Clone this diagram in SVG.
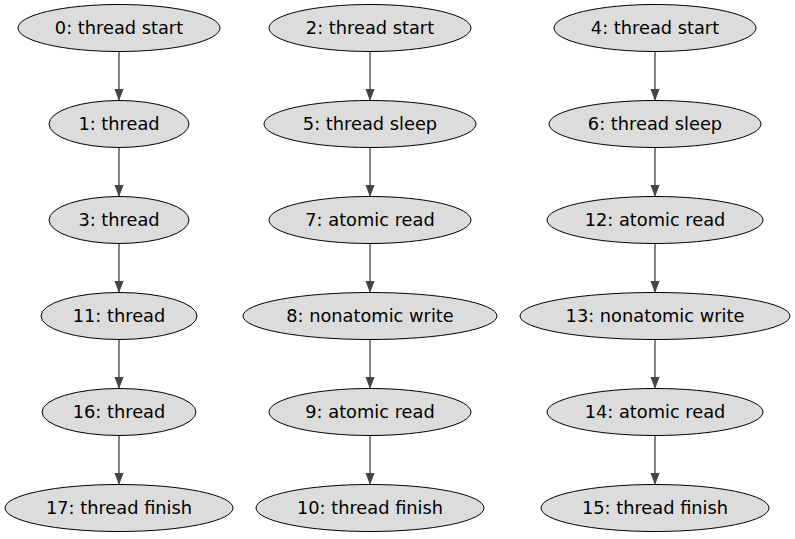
<svg xmlns="http://www.w3.org/2000/svg" width="795" height="539" viewBox="0 0 795 539">
<defs>
<style>
.n ellipse{fill:#dcdcdc;stroke:#000;stroke-width:1}
.n text{font-family:"DejaVu Sans",sans-serif;font-size:17.8px;text-anchor:middle;fill:#000}
.e line{stroke:#444;stroke-width:1.3}
</style>
<marker id="ah" markerWidth="12" markerHeight="10" refX="12" refY="5" orient="auto" markerUnits="userSpaceOnUse">
<path d="M0,0.5 L12,5 L0,9.5 Z" fill="#444"/>
</marker>
</defs>
<rect width="795" height="539" fill="#fff"/>
<g id="edges" class="e">
<line x1="119" y1="52" x2="119" y2="101" marker-end="url(#ah)"/>
<line x1="119" y1="148" x2="119" y2="197" marker-end="url(#ah)"/>
<line x1="119" y1="244" x2="119" y2="293" marker-end="url(#ah)"/>
<line x1="119" y1="340" x2="119" y2="389" marker-end="url(#ah)"/>
<line x1="119" y1="436" x2="119" y2="485" marker-end="url(#ah)"/>
<line x1="370" y1="52" x2="370" y2="101" marker-end="url(#ah)"/>
<line x1="370" y1="148" x2="370" y2="197" marker-end="url(#ah)"/>
<line x1="370" y1="244" x2="370" y2="293" marker-end="url(#ah)"/>
<line x1="370" y1="340" x2="370" y2="389" marker-end="url(#ah)"/>
<line x1="370" y1="436" x2="370" y2="485" marker-end="url(#ah)"/>
<line x1="655" y1="52" x2="655" y2="101" marker-end="url(#ah)"/>
<line x1="655" y1="148" x2="655" y2="197" marker-end="url(#ah)"/>
<line x1="655" y1="244" x2="655" y2="293" marker-end="url(#ah)"/>
<line x1="655" y1="340" x2="655" y2="389" marker-end="url(#ah)"/>
<line x1="655" y1="436" x2="655" y2="485" marker-end="url(#ah)"/>
</g>
<g id="n0" class="n"><ellipse cx="119" cy="28" rx="101" ry="23.5"/><text x="119" y="34">0: thread start</text></g>
<g id="n1" class="n"><ellipse cx="119" cy="124" rx="70" ry="23.5"/><text x="119" y="130">1: thread</text></g>
<g id="n3" class="n"><ellipse cx="119" cy="220" rx="70" ry="23.5"/><text x="119" y="226">3: thread</text></g>
<g id="n11" class="n"><ellipse cx="119" cy="316" rx="78" ry="23.5"/><text x="119" y="322">11: thread</text></g>
<g id="n16" class="n"><ellipse cx="119" cy="412" rx="77" ry="23.5"/><text x="119" y="418">16: thread</text></g>
<g id="n17" class="n"><ellipse cx="119" cy="508" rx="114" ry="23.5"/><text x="119" y="514">17: thread finish</text></g>
<g id="n2" class="n"><ellipse cx="370" cy="28" rx="101" ry="23.5"/><text x="370" y="34">2: thread start</text></g>
<g id="n5" class="n"><ellipse cx="370" cy="124" rx="106" ry="23.5"/><text x="370" y="130">5: thread sleep</text></g>
<g id="n7" class="n"><ellipse cx="370" cy="220" rx="101" ry="23.5"/><text x="370" y="226">7: atomic read</text></g>
<g id="n8" class="n"><ellipse cx="370" cy="316" rx="127" ry="23.5"/><text x="370" y="322">8: nonatomic write</text></g>
<g id="n9" class="n"><ellipse cx="370" cy="412" rx="101" ry="23.5"/><text x="370" y="418">9: atomic read</text></g>
<g id="n10" class="n"><ellipse cx="370" cy="508" rx="114" ry="23.5"/><text x="370" y="514">10: thread finish</text></g>
<g id="n4" class="n"><ellipse cx="655" cy="28" rx="101" ry="23.5"/><text x="655" y="34">4: thread start</text></g>
<g id="n6" class="n"><ellipse cx="655" cy="124" rx="106" ry="23.5"/><text x="655" y="130">6: thread sleep</text></g>
<g id="n12" class="n"><ellipse cx="655" cy="220" rx="108" ry="23.5"/><text x="655" y="226">12: atomic read</text></g>
<g id="n13" class="n"><ellipse cx="655" cy="316" rx="135" ry="23.5"/><text x="655" y="322">13: nonatomic write</text></g>
<g id="n14" class="n"><ellipse cx="655" cy="412" rx="108" ry="23.5"/><text x="655" y="418">14: atomic read</text></g>
<g id="n15" class="n"><ellipse cx="655" cy="508" rx="114" ry="23.5"/><text x="655" y="514">15: thread finish</text></g>
</svg>
